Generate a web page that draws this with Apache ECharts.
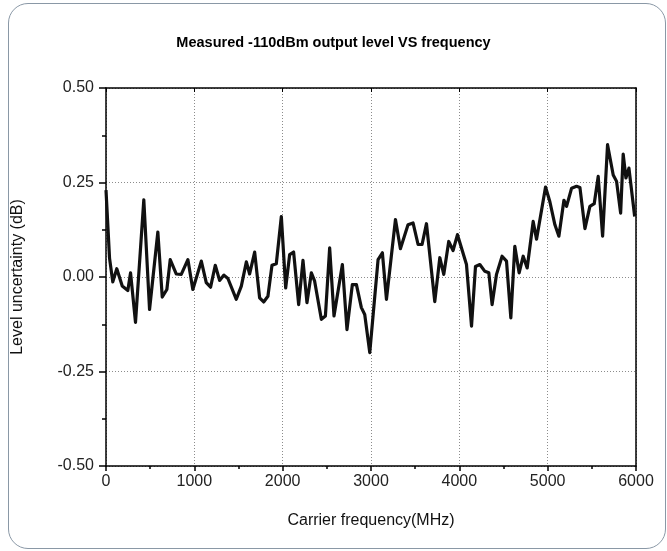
<!DOCTYPE html>
<html>
<head>
<meta charset="utf-8">
<script src="https://cdn.jsdelivr.net/npm/echarts@6/dist/echarts.min.js"></script>
<style>
  html, body { margin: 0; padding: 0; background: #fff; }
  #main { width: 667px; height: 551px; }
  .frame {
    position: absolute; left: 8px; top: 3px; width: 656px; height: 544px;
    border: 1px solid #8a98a6; border-radius: 20px; pointer-events: none;
  }
</style>
</head>
<body>
<div id="main"></div>
<div class="frame"></div>
<script>
// carrier frequency (MHz) and level uncertainty (dB)
var freqs = [
  0, 40, 77, 122, 184, 247, 278, 334, 428, 493, 587, 637, 689, 727, 795, 852, 927, 983,
  1079, 1135, 1184, 1237, 1286, 1335, 1380, 1475, 1532, 1589, 1626, 1683, 1739, 1785, 1833, 1879, 1928, 1985,
  2034, 2079, 2124, 2181, 2230, 2275, 2325, 2362, 2438, 2484, 2532, 2581, 2676, 2728, 2789, 2835, 2891, 2929, 2986,
  3080, 3129, 3175, 3277, 3333, 3419, 3476, 3533, 3578, 3628, 3722, 3779, 3824, 3880, 3929, 3979,
  4081, 4138, 4183, 4232, 4289, 4334, 4371, 4421, 4484, 4534, 4583, 4628, 4677, 4723, 4768, 4836, 4874, 4976,
  5025, 5082, 5127, 5184, 5214, 5271, 5327, 5365, 5422, 5478, 5527, 5572, 5622, 5678, 5742, 5780, 5826, 5855,
  5886, 5920, 5985
];
var levels = [
  0.23, 0.05, -0.013, 0.022, -0.024, -0.036, 0.011, -0.12, 0.204, -0.086, 0.119, -0.053, -0.033, 0.046, 0.008, 0.007, 0.046, -0.033,
  0.042, -0.015, -0.027, 0.031, -0.009, 0.005, -0.004, -0.059, -0.024, 0.04, 0.008, 0.066, -0.055, -0.066, -0.051, 0.031, 0.035, 0.16,
  -0.029, 0.059, 0.066, -0.073, 0.044, -0.068, 0.011, -0.011, -0.112, -0.103, 0.077, -0.103, 0.033, -0.139, -0.02, -0.02, -0.081, -0.099, -0.2,
  0.046, 0.064, -0.059, 0.152, 0.075, 0.138, 0.143, 0.086, 0.086, 0.141, -0.065, 0.051, 0.007, 0.094, 0.07, 0.112,
  0.033, -0.13, 0.028, 0.033, 0.015, 0.011, -0.073, 0.007, 0.055, 0.042, -0.108, 0.081, 0.011, 0.055, 0.024, 0.147, 0.1, 0.238,
  0.199, 0.138, 0.108, 0.203, 0.187, 0.235, 0.24, 0.237, 0.128, 0.187, 0.194, 0.266, 0.108, 0.35, 0.27, 0.253, 0.169, 0.325,
  0.262, 0.288, 0.16
];

var font = 'Liberation Sans';
var dots = { color: '#8c8c8c', width: 1, type: [1, 2] };
var black = { color: '#000', width: 1.5 };

var chart = echarts.init(document.getElementById('main'));
chart.setOption({
  animation: false,
  textStyle: { fontFamily: font },
  title: {
    text: 'Measured -110dBm output level VS frequency',
    left: 'center', top: 30,
    textStyle: { fontFamily: font, fontSize: 14.5, fontWeight: 'bold', color: '#000' }
  },
  grid: { left: 106, right: 31, top: 88, bottom: 85 },
  xAxis: [{
    type: 'value', min: 0, max: 6000, interval: 1000,
    name: 'Carrier frequency(MHz)', nameLocation: 'middle', nameGap: 47,
    nameTextStyle: { fontSize: 16, color: '#111', fontFamily: font },
    axisLine: { onZero: false, lineStyle: black },
    axisTick: { length: 5, lineStyle: black },
    minorTick: { show: true, splitNumber: 2, length: 3, lineStyle: black },
    axisLabel: {
      fontSize: 16, color: '#222', margin: 8, fontFamily: font,
      formatter: function (v) { return String(v); }
    },
    splitLine: { show: true, lineStyle: dots }
  }, {
    type: 'value', min: 0, max: 6000, interval: 1000, position: 'top',
    axisLine: { onZero: false, lineStyle: black },
    axisTick: { inside: true, length: 4, lineStyle: { color: '#000' } },
    axisLabel: { show: false }, splitLine: { show: false }
  }],
  yAxis: [{
    type: 'value', min: -0.5, max: 0.5, interval: 0.25,
    name: 'Level uncertainty (dB)', nameLocation: 'middle', nameGap: 80,
    nameTextStyle: { fontSize: 16, color: '#111', fontFamily: font },
    axisLine: { show: true, onZero: false, lineStyle: black },
    axisTick: { show: true, length: 7, lineStyle: black },
    minorTick: { show: true, splitNumber: 2, length: 4, lineStyle: black },
    axisLabel: {
      fontSize: 16, color: '#222', margin: 12, fontFamily: font,
      formatter: function (v) { return v.toFixed(2); }
    },
    splitLine: { show: true, lineStyle: dots }
  }, {
    type: 'value', min: -0.5, max: 0.5, interval: 0.25, position: 'right',
    axisLine: { show: true, onZero: false, lineStyle: black },
    axisTick: { show: false }, axisLabel: { show: false }, splitLine: { show: false }
  }],
  series: [{
    type: 'line',
    data: freqs.map(function (f, i) { return [f, levels[i]]; }),
    showSymbol: false,
    lineStyle: { color: '#111', width: 3.2, join: 'round' }
  }]
});
</script>
</body>
</html>
